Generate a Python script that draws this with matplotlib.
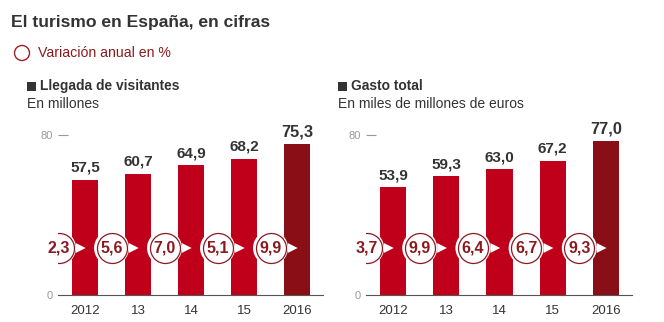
import matplotlib
matplotlib.use("Agg")
import matplotlib.pyplot as plt
from matplotlib import font_manager
from matplotlib.patches import Circle, Rectangle

names = {f.name for f in font_manager.fontManager.ttflist}
FAM = "Liberation Sans Narrow" if "Liberation Sans Narrow" in names else "Liberation Sans"
plt.rcParams["font.family"] = [FAM, "DejaVu Sans"]

# ---- data ----
years = ["2012", "13", "14", "15", "2016"]
visitantes = [57.5, 60.7, 64.9, 68.2, 75.3]
var_visitantes = ["2,3", "5,6", "7,0", "5,1", "9,9"]
gasto = [53.9, 59.3, 63.0, 67.2, 77.0]
var_gasto = ["3,7", "9,9", "6,4", "6,7", "9,3"]
yticks = [0, 80]

RED = "#c0001b"
DARK = "#8a0e16"
TXTRED = "#8b1a1f"
GRAY = "#333333"

W, H = 664, 322
fig = plt.figure(figsize=(W / 100, H / 100), dpi=100)

def px(x, y):
    return x / W, 1 - y / H

fig.text(*px(11, 22), "El turismo en España, en cifras", fontsize=12.6, fontweight="bold",
         color=GRAY, va="center", ha="left")
legc = Circle((22 / 100, (H - 53) / 100), 7.5 / 100, transform=fig.dpi_scale_trans,
              facecolor="white", edgecolor="#a01c28", linewidth=1.0)
fig.patches.append(legc)
fig.text(*px(38, 53), "Variación anual en %", fontsize=10.2, color=TXTRED, va="center", ha="left")


def panel(left, right, values, varis, title, subtitle, title_x):
    ax = fig.add_axes([left / W, (H - 295) / H, (right - left) / W, 160 / H])
    n = len(values)
    xs = list(range(n))
    colors = [RED] * (n - 1) + [DARK]
    ax.bar(xs, values, width=0.49, color=colors, zorder=2)
    ax.set_ylim(0, 80)
    ax.set_xlim(-0.51, n - 0.51)
    for s in ["top", "right", "left"]:
        ax.spines[s].set_visible(False)
    ax.spines["bottom"].set_color("#555555")
    ax.spines["bottom"].set_linewidth(0.8)
    ax.set_xticks(xs)
    ax.set_xticklabels(years, fontsize=9.5, color=GRAY)
    ax.tick_params(axis="x", length=0, pad=7)
    ax.set_yticks(yticks)
    ax.set_yticklabels([str(t) for t in yticks], fontsize=8, color="#999999")
    ax.tick_params(axis="y", length=7, width=0.8, color="#999999", pad=4, direction="in")
    ax.yaxis.get_major_ticks()[0].tick1line.set_visible(False)
    for i, v in enumerate(values):
        last = i == n - 1
        ax.text(i, v + 2.5, f"{v:.1f}".replace(".", ","), ha="center", va="bottom",
                fontsize=11.8 if last else 11, fontweight="bold", color=GRAY, clip_on=False)
    cy = 23.5
    cx = [i - 0.5 for i in range(n)]
    ax.scatter(cx, [cy] * n, s=(35 * 0.72) ** 2, facecolor="white", edgecolor="none", zorder=3)
    ax.scatter(cx, [cy] * n, s=(30 * 0.72) ** 2, facecolor="white", edgecolor=TXTRED,
               linewidth=0.9, zorder=4)
    ax.scatter([c + 0.42 for c in cx], [cy] * n, marker=">", s=50, color="white",
               edgecolor="none", zorder=4)
    for c, t in zip(cx, varis):
        ax.text(c, cy, t, ha="center", va="center", fontsize=11.5, fontweight="bold",
                color=TXTRED, zorder=5, clip_on=False)
    fig.patches.append(Rectangle(px(title_x, 91), 9 / W, 9 / H, transform=fig.transFigure,
                                 facecolor=GRAY, edgecolor="none"))
    fig.text(*px(title_x + 13, 86), title, fontsize=9.9, fontweight="bold", color=GRAY,
             va="center", ha="left")
    fig.text(*px(title_x, 104), subtitle, fontsize=10, color=GRAY, va="center", ha="left")
    return ax


panel(58, 323, visitantes, var_visitantes, "Llegada de visitantes", "En millones", 27)
panel(366, 632, gasto, var_gasto, "Gasto total", "En miles de millones de euros", 338)

fig.savefig("out.png", dpi=100)
